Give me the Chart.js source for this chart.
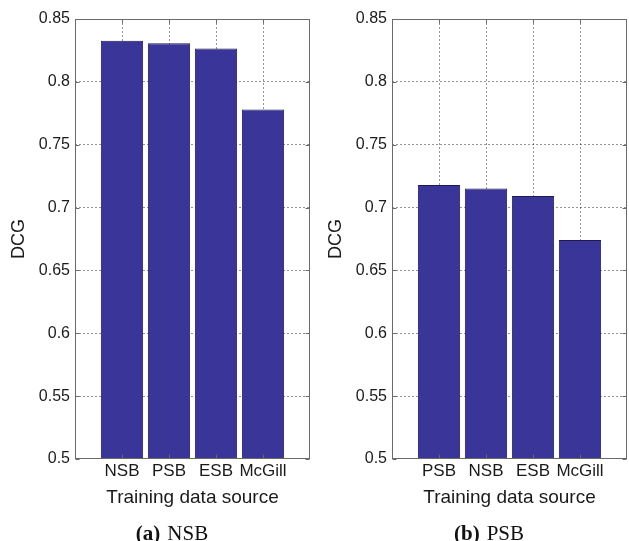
<!DOCTYPE html>
<html>
<head>
<meta charset="utf-8">
<script src="https://cdn.jsdelivr.net/npm/chart.js@4.4.0/dist/chart.umd.min.js"></script>
<style>
  body { margin: 0; width: 629px; height: 541px; position: relative; background: #fff; overflow: hidden; }
  canvas { position: absolute; top: 0; }
  .caption { position: absolute; top: 521px; width: 200px; text-align: center;
    font: 21px "Liberation Serif", "Times New Roman", serif; line-height: 24px; color: #111; }
  .caption b { margin-right: 7px; }
</style>
</head>
<body>
<canvas id="nsbChart" width="314" height="541" style="left:0px"></canvas>
<canvas id="psbChart" width="315" height="541" style="left:314px"></canvas>
<div class="caption" style="left:72px"><b>(a)</b>NSB</div>
<div class="caption" style="left:389px"><b>(b)</b>PSB</div>
<script>
// training source order differs per panel
const nsbLabels = ["NSB", "PSB", "ESB", "McGill"];
const nsbValues = [0.8326, 0.8307, 0.8265, 0.778];

const psbLabels = ["PSB", "NSB", "ESB", "McGill"];
const psbValues = [0.718, 0.7151, 0.7093, 0.6743];

const dcgTicks = [0.5, 0.55, 0.6, 0.65, 0.7, 0.75, 0.8, 0.85];

const BAR_COLOR = "#3a3598";
const GRID_COLOR = "rgba(0,0,0,0.42)";
const FRAME_COLOR = "#6a6a6a";

// matlab style box with inward ticks
const framePlugin = {
  id: "frame",
  afterDraw(chart) {
    const { ctx, chartArea: a, scales } = chart;
    const L = Math.round(a.left) + 0.5, R = Math.round(a.right) - 0.5;
    const T = Math.round(a.top) + 0.5, B = Math.round(a.bottom) - 0.5;
    ctx.save();
    ctx.strokeStyle = FRAME_COLOR;
    ctx.lineWidth = 1;
    ctx.strokeRect(L, T, R - L, B - T);
    ctx.beginPath();
    scales.y.ticks.forEach((t) => {
      const y = Math.round(scales.y.getPixelForValue(t.value)) + 0.5;
      ctx.moveTo(L, y); ctx.lineTo(L + 4, y);
      ctx.moveTo(R, y); ctx.lineTo(R - 4, y);
    });
    scales.x.ticks.forEach((t) => {
      if (t.value < 1 || t.value > 4) return;
      const x = Math.round(scales.x.getPixelForValue(t.value)) + 0.5;
      ctx.moveTo(x, B); ctx.lineTo(x, B - 4);
      ctx.moveTo(x, T); ctx.lineTo(x, T + 4);
    });
    ctx.stroke();
    ctx.restore();
  }
};

function makePanel(id, labels, values, padLeft, padRight) {
  const points = values.map((v, i) => ({ x: i + 1, y: v }));
  return new Chart(document.getElementById(id), {
    type: "bar",
    data: {
      datasets: [{
        data: points,
        backgroundColor: BAR_COLOR,
        borderColor: "#1d1a4d",
        borderWidth: 1,
        barPercentage: 0.9,
        categoryPercentage: 1.0,
      }],
    },
    options: {
      responsive: false,
      animation: false,
      layout: { padding: { left: padLeft, top: 19, right: padRight, bottom: 26 } },
      plugins: { legend: { display: false }, tooltip: { enabled: false } },
      scales: {
        x: {
          type: "linear",
          min: 0,
          max: labels.length + 1,
          offset: false,
          afterBuildTicks: (s) => {
            s.ticks = [0, 1, 2, 3, 4, 5].map((v) => ({ value: v }));
          },
          afterFit: (s) => { s.height = 56; },
          grid: {
            offset: false,
            drawTicks: false,
            color: (c) => (c.tick && c.tick.value >= 1 && c.tick.value <= labels.length) ? GRID_COLOR : "transparent",
          },
          border: { display: false, dash: [2, 2] },
          ticks: {
            padding: 2,
            maxRotation: 0,
            autoSkip: false,
            color: "#1a1a1a",
            font: { family: "'Liberation Sans', Arial, sans-serif", size: 17 },
            callback: (v) => labels[v - 1] || "",
          },
          title: {
            display: true,
            text: "Training data source",
            color: "#1a1a1a",
            padding: { top: 0, bottom: 6 },
            font: { family: "'Liberation Sans', Arial, sans-serif", size: 19 },
          },
        },
        y: {
          min: 0.5,
          max: 0.85,
          afterBuildTicks: (s) => {
            s.ticks = dcgTicks.map((v) => ({ value: v }));
          },
          afterFit: (s) => { s.width = 75; },
          grid: {
            drawTicks: false,
            color: (c) => (c.index === 0 || c.index === dcgTicks.length - 1) ? "transparent" : GRID_COLOR,
          },
          border: { display: false, dash: [2, 2] },
          ticks: {
            padding: 5,
            color: "#1a1a1a",
            font: { family: "'Liberation Sans', Arial, sans-serif", size: 16 },
            callback: (v) => String(+v.toFixed(2)),
          },
          title: {
            display: true,
            text: "DCG",
            color: "#1a1a1a",
            padding: { top: 8, bottom: 0 },
            font: { family: "'Liberation Sans', Arial, sans-serif", size: 18 },
          },
        },
      },
    },
    plugins: [framePlugin],
  });
}

makePanel("nsbChart", nsbLabels, nsbValues, 0, 4);
makePanel("psbChart", psbLabels, psbValues, 3, 1);
</script>
</body>
</html>
